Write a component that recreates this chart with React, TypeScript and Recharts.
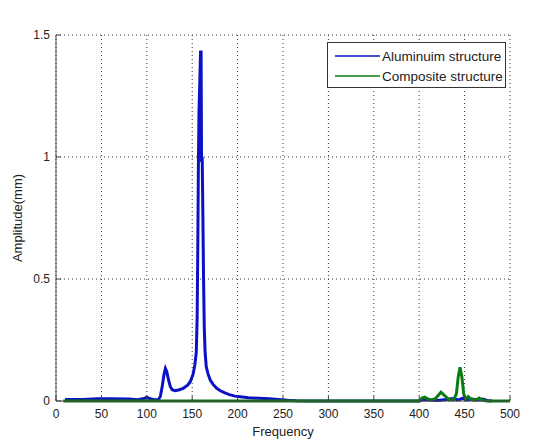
import { LineChart, Line, XAxis, YAxis, CartesianGrid, Label } from "recharts";

// frequency (Hz) / amplitude (mm)
const alFreq = [
  10, 30, 45, 60, 80, 90, 97, 100, 103, 108, 113, 115, 117, 119, 120.5, 122, 124, 126, 128, 131,
  135, 140, 145, 148, 151, 153, 154.5, 155.5, 156.2, 156.8, 157.5, 158.3, 159.2, 159.8, 160.3, 161,
  161.8, 162.5, 163.3, 164.2, 165.5, 167.5, 170, 173, 177, 181, 186, 191, 197, 203, 212, 223, 235,
  245, 255, 265, 280, 400, 405, 412, 420, 430, 437, 443, 448, 452, 458, 465, 470, 475, 480,
];
const alAmp = [
  0.006, 0.006, 0.009, 0.009, 0.008, 0.005, 0.01, 0.016, 0.01, 0.005, 0.006, 0.02, 0.06, 0.11, 0.133,
  0.12, 0.085, 0.058, 0.046, 0.042, 0.045, 0.052, 0.065, 0.08, 0.11, 0.15, 0.2, 0.35, 0.65, 0.96, 1.19,
  1.3, 1.43, 1.43, 0.98, 1.0, 0.75, 0.5, 0.3, 0.2, 0.14, 0.11, 0.085, 0.068, 0.052, 0.042, 0.033, 0.026,
  0.02, 0.017, 0.013, 0.011, 0.009, 0.006, 0.003, 0.001, 0, 0, 0.006, 0.004, 0.002, 0.006, 0.01, 0.004,
  0.012, 0.004, 0.008, 0.004, 0.008, 0.002, 0,
];

const compFreq = [
  8, 100, 200, 300, 400, 403, 406, 409, 413, 418, 424, 428, 433, 438, 441, 443, 445, 447, 449, 451,
  454, 457, 462, 466, 470, 475, 500,
];
const compAmp = [
  0, 0, 0, 0, 0, 0.012, 0.016, 0.01, 0.004, 0.01, 0.036, 0.022, 0.005, 0.005, 0.03, 0.1, 0.138, 0.1,
  0.03, 0.008, 0.018, 0.008, 0.003, 0.012, 0.003, 0, 0,
];

const seriesNames = ["Aluminuim structure", "Composite structure"];
const COLORS = ["#0b12c6", "#0b7c14"];

const xTicks = [0, 50, 100, 150, 200, 250, 300, 350, 400, 450, 500];
const yTicks = [0, 0.5, 1, 1.5];

const alData = alFreq.map((f, i) => ({ freq: f, amp: alAmp[i] }));
const compData = compFreq.map((f, i) => ({ freq: f, amp: compAmp[i] }));

const FONT = "'Liberation Sans', Arial, sans-serif";
const AXIS = "#444";

const BottomTick = ({ x, y, payload }: any) => (
  <g>
    <line x1={x} x2={x} y1={y} y2={y - 5} stroke={AXIS} />
    <text x={x} y={y + 17} textAnchor="middle" fontSize={12} fill="#222" fontFamily={FONT}>
      {payload.value}
    </text>
  </g>
);
const TopTick = ({ x, y }: any) => <line x1={x} x2={x} y1={y} y2={y + 5} stroke={AXIS} />;
const LeftTick = ({ x, y, payload }: any) => (
  <g>
    <line x1={x} x2={x + 5} y1={y} y2={y} stroke={AXIS} />
    <text x={x - 6} y={y + 4} textAnchor="end" fontSize={12} fill="#222" fontFamily={FONT}>
      {payload.value}
    </text>
  </g>
);
const RightTick = ({ x, y }: any) => <line x1={x} x2={x - 5} y1={y} y2={y} stroke={AXIS} />;

// legend drawn as a box inside the plot, top right (like matlab's)
const LegendBox = () => (
  <div
    style={{
      position: "absolute",
      left: 327,
      top: 42,
      boxSizing: "border-box",
      width: 179,
      border: "1px solid #333",
      background: "#fff",
      padding: "3px 7px 1px 7px",
      fontSize: 13.5,
      fontFamily: FONT,
      color: "#222",
    }}
  >
    {seriesNames.map((n, i) => (
      <div key={n} style={{ display: "flex", alignItems: "center", height: 20 }}>
        <svg width={45} height={4} style={{ flex: "none" }}>
          <line x1={0} x2={45} y1={2} y2={2} stroke={COLORS[i]} strokeWidth={1.5} />
        </svg>
        <span style={{ marginLeft: 2, whiteSpace: "nowrap" }}>{n}</span>
      </div>
    ))}
  </div>
);

export default function App() {
  return (
    <div style={{ position: "relative", width: 534, height: 439, background: "#fff" }}>
      <style>{"body{margin:0}"}</style>
      <LineChart width={534} height={439} margin={{ top: 35, right: 24, bottom: 3, left: 0 }}>
        <CartesianGrid stroke="#333" strokeDasharray="1 3" xAxisId="0" yAxisId="0" />
        <XAxis
          xAxisId="0"
          dataKey="freq"
          type="number"
          domain={[0, 500]}
          ticks={xTicks}
          height={35}
          tickSize={0}
          tickMargin={0}
          tick={<BottomTick />}
          stroke={AXIS}
          allowDuplicatedCategory={false}
        >
          <Label value="Frequency" position="insideBottom" offset={0} fontSize={13} fill="#222" fontFamily={FONT} />
        </XAxis>
        <XAxis
          xAxisId="top"
          orientation="top"
          type="number"
          domain={[0, 500]}
          ticks={xTicks}
          height={0}
          tickSize={0}
          tickMargin={0}
          tick={<TopTick />}
          stroke={AXIS}
        >
          <Label value="Amplitude at z axis" position="top" offset={12} fontSize={14} fill="#222" fontFamily={FONT} />
        </XAxis>
        <YAxis
          yAxisId="0"
          type="number"
          domain={[0, 1.5]}
          ticks={yTicks}
          width={56}
          tickSize={0}
          tickMargin={0}
          tick={<LeftTick />}
          stroke={AXIS}
        >
          <Label
            value="Amplitude(mm)"
            angle={-90}
            position="insideLeft"
            offset={17}
            fontSize={13}
            fill="#222"
            fontFamily={FONT}
            style={{ textAnchor: "middle" }}
          />
        </YAxis>
        <YAxis
          yAxisId="right"
          orientation="right"
          type="number"
          domain={[0, 1.5]}
          ticks={yTicks}
          width={0}
          tickSize={0}
          tickMargin={0}
          tick={<RightTick />}
          stroke={AXIS}
        />
        <Line
          xAxisId="0"
          yAxisId="0"
          data={alData}
          dataKey="amp"
          name={seriesNames[0]}
          stroke={COLORS[0]}
          strokeWidth={3}
          dot={false}
          isAnimationActive={false}
        />
        <Line
          xAxisId="0"
          yAxisId="0"
          data={compData}
          dataKey="amp"
          name={seriesNames[1]}
          stroke={COLORS[1]}
          strokeWidth={3}
          dot={false}
          isAnimationActive={false}
        />
      </LineChart>
      <LegendBox />
    </div>
  );
}
